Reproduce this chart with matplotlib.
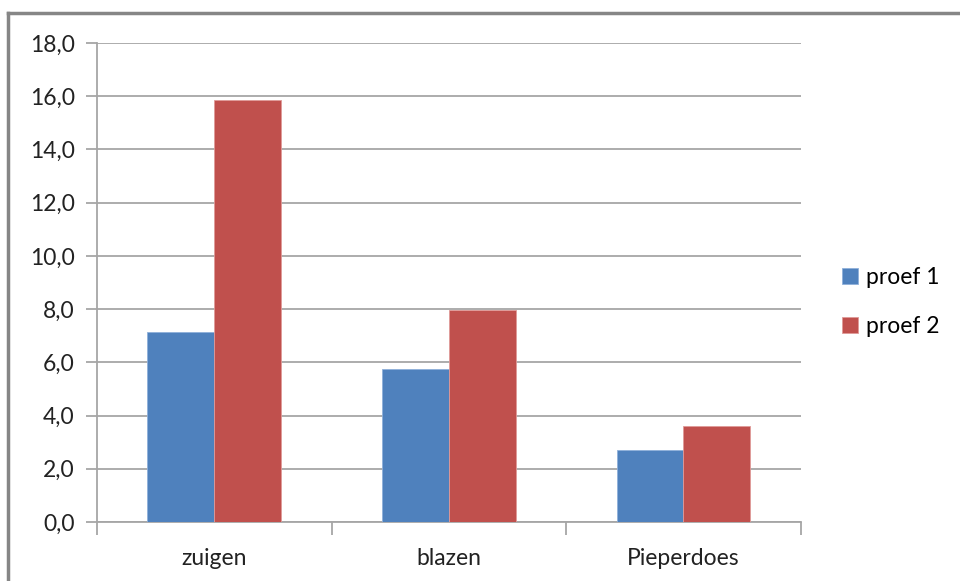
import matplotlib.pyplot as plt
from matplotlib.lines import Line2D
import numpy as np

plt.rcParams['font.family'] = ['Lato', 'DejaVu Sans']

categories = ['zuigen', 'blazen', 'Pieperdoes']
proef1 = [7.13, 5.74, 2.71]
proef2 = [15.85, 7.97, 3.62]
series_names = ['proef 1', 'proef 2']
colors = ['#4F81BD', '#C0504D']

fig = plt.figure(figsize=(9.6, 5.81), dpi=100)
ax = fig.add_axes([0.101, 0.1015, 0.733, 0.8245])

x = np.arange(len(categories))
w = 0.285
ax.bar(x - w / 2, proef1, w, color=colors[0], edgecolor='#8FB0DA', linewidth=0.6, zorder=3, label=series_names[0])
ax.bar(x + w / 2, proef2, w, color=colors[1], edgecolor='#E09A98', linewidth=0.6, zorder=3, label=series_names[1])

ax.set_xlim(-0.5, 2.5)
ax.set_ylim(0, 18)
yt = np.arange(0, 19, 2)
ax.set_yticks(yt)
ax.set_yticklabels([f'{v:.1f}'.replace('.', ',') for v in yt], fontsize=16.5, color='#222222')
ax.yaxis.grid(True, color='#A6A6A6', linewidth=1.3, zorder=0)

# category labels, ticks at the boundaries
ax.set_xticks([-0.5, 0.5, 1.5, 2.5])
ax.set_xticklabels([])
ax.set_xticks(x, minor=True)
ax.set_xticklabels(categories, minor=True, fontsize=16.5, color='#222222')
ax.tick_params(axis='x', which='minor', length=0, pad=19)
ax.tick_params(axis='x', which='major', length=9, width=1.3, color='#A6A6A6')
ax.tick_params(axis='y', length=8, width=1.3, color='#A6A6A6', pad=8)

for s in ['top', 'right']:
    ax.spines[s].set_visible(False)
for s in ['left', 'bottom']:
    ax.spines[s].set_color('#A6A6A6')
    ax.spines[s].set_linewidth(1.3)

# outer border (top and left visible)
fig.add_artist(Line2D([0.0085, 1.0], [0.9775, 0.9775], transform=fig.transFigure, color='#868686', linewidth=2.5))
fig.add_artist(Line2D([0.0085, 0.0085], [0.0, 0.9775], transform=fig.transFigure, color='#868686', linewidth=2.5))

ax.legend(loc='center left', bbox_to_anchor=(0.876 - 0.011, 0.48), bbox_transform=fig.transFigure,
          frameon=False, fontsize=16.5, handlelength=0.7, handleheight=0.7,
          handletextpad=0.35, labelspacing=1.2, borderpad=0)

fig.savefig('out.png', dpi=100)
